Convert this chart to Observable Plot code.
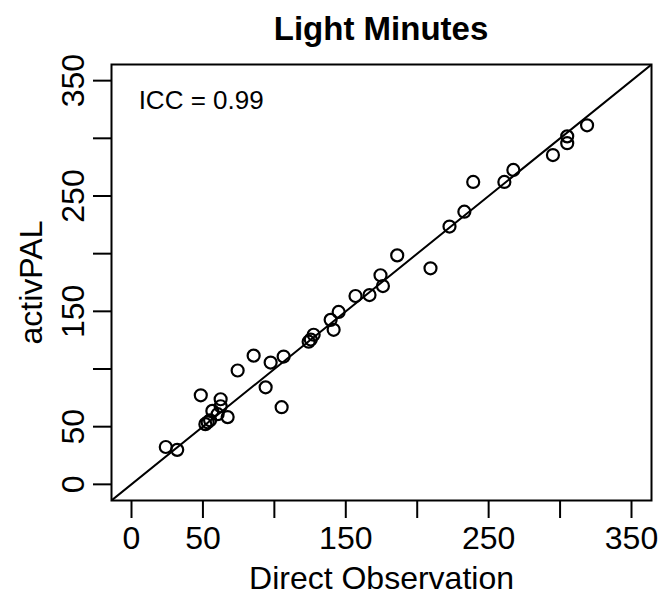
<!DOCTYPE html>
<html>
<head>
<meta charset="utf-8">
<script src="https://cdn.jsdelivr.net/npm/d3@7"></script>
<script src="https://cdn.jsdelivr.net/npm/@observablehq/plot@0.6"></script>
<style>
  html, body { margin: 0; padding: 0; background: #fff; }
  #title { width: 658px; box-sizing: border-box; padding-left: 111px; padding-right: 7px;
    height: 56px; line-height: 58px; text-align: center;
    font-family: "Liberation Sans", Arial, sans-serif; font-weight: bold; font-size: 33px; color: #000; }
</style>
</head>
<body>
<div id="title">Light Minutes</div>
<div id="chart"></div>
<script>
// Direct observation minutes (x) vs activPAL minutes (y)
const directObservation = [24, 32, 48.5, 51.7, 53.3, 55, 56.6, 62.4, 62.4, 60.3, 67.3, 74.3, 85.5, 93.9, 97.4, 106.5, 105.1, 124, 125.5, 127.5, 139.4, 145, 141.5, 156.8, 166.6, 174.3, 176, 186, 209.3, 222.6, 233, 239.2, 261, 267.3, 295, 305, 305, 318.9];
const activPAL = [32.4, 29.9, 77.2, 52.2, 53.8, 55.5, 63.7, 73.8, 67.7, 60.8, 58.3, 98.7, 111.6, 84.1, 105.6, 110.8, 66.9, 123.7, 125.5, 129.7, 142.6, 149.5, 134, 163.3, 164.1, 181.3, 171.9, 198.5, 187.3, 223.5, 236.4, 262.2, 262.2, 272.6, 285.5, 301.7, 295.8, 311.3];
const tickValues = [0, 50, 100, 150, 200, 250, 300, 350];
const tickLabels = [0, 50, 150, 250, 350];
const axisLimits = [0, 350];
const iccText = "ICC = 0.99";
const iccPosition = {x: 5, y: 333};

const pad = (axisLimits[1] - axisLimits[0]) * 0.04;
const domain = [axisLimits[0] - pad, axisLimits[1] + pad];
const points = directObservation.map((d, i) => ({x: d, y: activPAL[i]}));
const identity = domain.map(v => ({x: v, y: v}));
const fmt = d => tickLabels.includes(d) ? String(d) : "";

const chart = Plot.plot({
  width: 658,
  height: 540,
  marginTop: 8,
  marginBottom: 96,
  marginLeft: 111,
  marginRight: 7,
  style: {fontFamily: "'Liberation Sans', Arial, sans-serif", fontSize: "32px", color: "#000", background: "#fff", overflow: "visible"},
  x: {domain, ticks: tickValues, tickFormat: fmt},
  y: {domain, ticks: tickValues, tickFormat: fmt},
  marks: [
    Plot.frame({stroke: "#000", strokeWidth: 2}),
    Plot.line(identity, {x: "x", y: "y", stroke: "#000", strokeWidth: 2, clip: true}),
    Plot.dot(points, {x: "x", y: "y", r: 6, stroke: "#000", strokeWidth: 2.2, fill: "none"}),
    Plot.text([iccPosition], {x: "x", y: "y", text: () => iccText, textAnchor: "start", fontSize: 26, fill: "#000"}),
    Plot.axisX({ticks: tickValues, tickFormat: fmt, tickSize: 18, tickPadding: 8, strokeWidth: 2,
      label: "Direct Observation", labelAnchor: "center", labelArrow: "none", labelOffset: 88}),
    Plot.axisY({ticks: tickValues, tickFormat: fmt, tickSize: 18, tickPadding: 10, tickRotate: -90, strokeWidth: 2,
      label: "activPAL", labelAnchor: "center", labelArrow: "none", labelOffset: 92})
  ]
});
document.getElementById("chart").appendChild(chart);
</script>
</body>
</html>
